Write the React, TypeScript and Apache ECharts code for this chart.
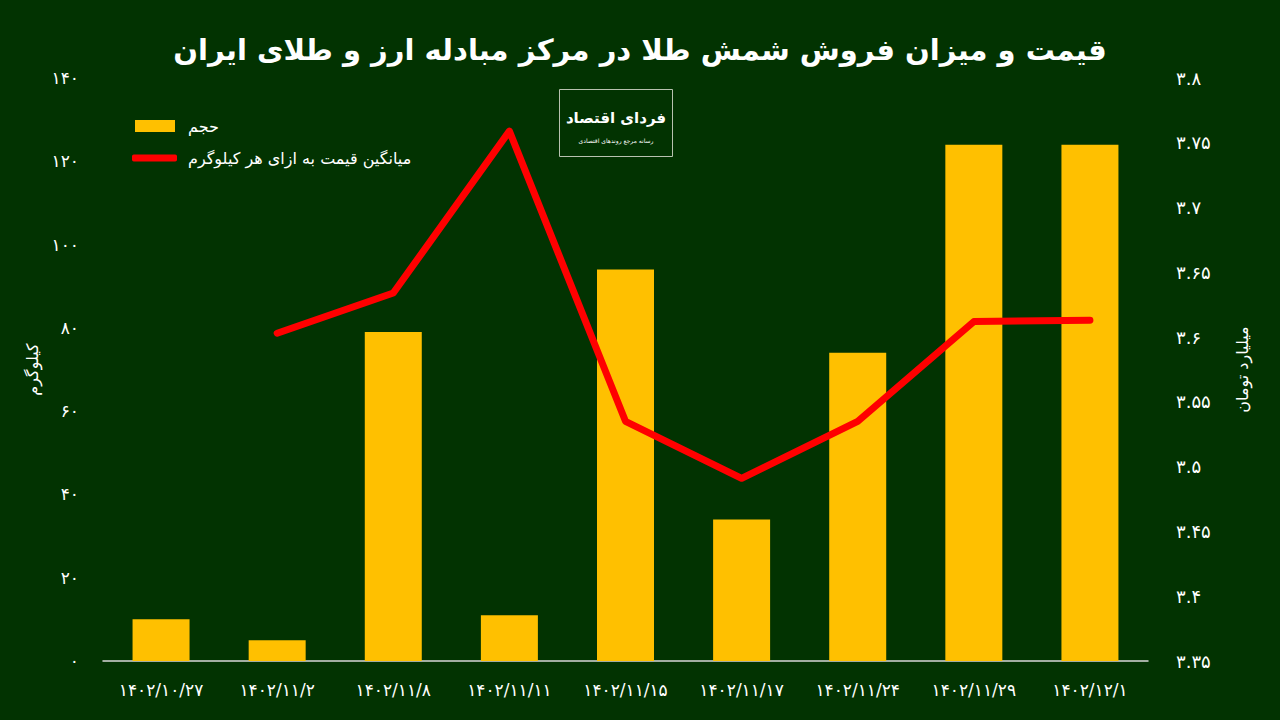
import React, { useEffect, useRef } from "react";
import * as echarts from "echarts";

const categories = ["۱۴۰۲/۱۰/۲۷", "۱۴۰۲/۱۱/۲", "۱۴۰۲/۱۱/۸", "۱۴۰۲/۱۱/۱۱", "۱۴۰۲/۱۱/۱۵", "۱۴۰۲/۱۱/۱۷", "۱۴۰۲/۱۱/۲۴", "۱۴۰۲/۱۱/۲۹", "۱۴۰۲/۱۲/۱"];
const volume = [10, 5, 79, 11, 94, 34, 74, 124, 124];
const avgPrice = [null, 3.603, 3.634, 3.759, 3.535, 3.491, 3.535, 3.612, 3.613];
const leftTicks = [0, 20, 40, 60, 80, 100, 120, 140];
const rightTicks = [3.35, 3.4, 3.45, 3.5, 3.55, 3.6, 3.65, 3.7, 3.75, 3.8];

const title = "قیمت و میزان فروش شمش طلا در مرکز مبادله ارز و طلای ایران";
const volumeName = "حجم";
const priceName = "میانگین قیمت به ازای هر کیلوگرم";
const leftAxisName = "کیلوگرم";
const rightAxisName = "میلیارد تومان";

const fa = (s: string) => s.replace(/[0-9]/g, (d) => "۰۱۲۳۴۵۶۷۸۹"[+d]);
const fmtNum = (v: number) => fa(String(Math.round(v * 100) / 100));

const FONT = "DejaVu Sans";

export default function App() {
  const ref = useRef<HTMLDivElement>(null);
  useEffect(() => {
    const chart = echarts.init(ref.current!, null, { renderer: "svg" });
    chart.setOption({
      animation: false,
      backgroundColor: "#023301",
      textStyle: { fontFamily: FONT },
      title: {
        text: title,
        left: "center",
        top: 30,
        textStyle: { color: "#ffffff", fontSize: 29, fontWeight: "bold", fontFamily: FONT },
      },
      legend: [
        {
          orient: "vertical",
          left: 130,
          top: 113,
          itemWidth: 40,
          itemHeight: 12,
          textStyle: { color: "#ffffff", fontSize: 16, fontFamily: FONT, padding: [0, 0, 0, 8] },
          data: [{ name: volumeName, icon: "rect" }],
        },
        {
          orient: "vertical",
          left: 127,
          top: 145,
          itemWidth: 45,
          itemHeight: 7,
          textStyle: { color: "#ffffff", fontSize: 16, fontFamily: FONT, padding: [0, 0, 0, 6] },
          data: [{ name: priceName, icon: "roundRect" }],
        },
      ],
      graphic: [
        {
          type: "rect",
          x: 559.5,
          y: 89.5,
          shape: { width: 113, height: 67 },
          style: { fill: "none", stroke: "#b8c2b0", lineWidth: 1 },
        },
        {
          type: "text",
          x: 616,
          y: 110,
          style: { text: "فردای اقتصاد", fill: "#ffffff", fontSize: 15, fontWeight: "bold", fontFamily: FONT, align: "center" },
        },
        {
          type: "text",
          x: 616,
          y: 137,
          style: { text: "رسانه مرجع روندهای اقتصادی", fill: "#ffffff", fontSize: 6, fontFamily: FONT, align: "center" },
        },
      ],
      grid: { left: 103, right: 132, top: 78, bottom: 59 },
      xAxis: {
        type: "category",
        data: categories,
        axisLine: { show: true, lineStyle: { color: "#d9d9d9", width: 1.5 } },
        axisTick: { show: false },
        axisLabel: { color: "#ffffff", fontSize: 17, margin: 20, fontFamily: FONT, interval: 0 },
      },
      yAxis: [
        {
          type: "value",
          min: 0,
          max: 140,
          interval: 20,
          name: leftAxisName,
          nameLocation: "middle",
          nameGap: 62,
          nameRotate: 90,
          nameTextStyle: { color: "#ffffff", fontSize: 16, fontFamily: FONT },
          splitLine: { show: false },
          axisLine: { show: false },
          axisTick: { show: false },
          axisLabel: {
            color: "#ffffff",
            fontSize: 17,
            margin: 24,
            fontFamily: FONT,
            formatter: (v: number) => (leftTicks.includes(v) ? fmtNum(v) : ""),
          },
        },
        {
          type: "value",
          min: 3.35,
          max: 3.8,
          interval: 0.05,
          name: rightAxisName,
          nameLocation: "middle",
          nameGap: 86,
          nameRotate: 90,
          nameTextStyle: { color: "#ffffff", fontSize: 16, fontFamily: FONT },
          splitLine: { show: false },
          axisLine: { show: false },
          axisTick: { show: false },
          axisLabel: {
            color: "#ffffff",
            fontSize: 18,
            margin: 28,
            fontFamily: FONT,
            formatter: (v: number) => {
              const t = rightTicks.find((r) => Math.abs(r - v) < 1e-6);
              return t !== undefined ? fmtNum(t) : "";
            },
          },
        },
      ],
      series: [
        {
          name: volumeName,
          type: "bar",
          data: volume,
          barWidth: 57,
          itemStyle: { color: "#ffc000" },
          yAxisIndex: 0,
        },
        {
          name: priceName,
          type: "line",
          data: avgPrice,
          yAxisIndex: 1,
          symbol: "none",
          lineStyle: { color: "#ff0000", width: 7, cap: "round", join: "round" },
          itemStyle: { color: "#ff0000" },
        },
      ],
    });
    return () => chart.dispose();
  }, []);
  return <div ref={ref} style={{ width: 1280, height: 720, position: "absolute", left: 0, top: 0 }} />;
}
